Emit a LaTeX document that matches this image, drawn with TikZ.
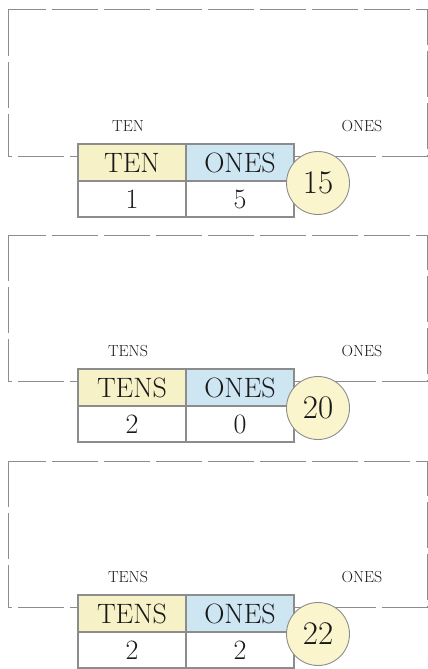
\documentclass[tikz,border=0pt]{standalone}
\usepackage{tikz}
\usetikzlibrary{positioning}
\definecolor{tens yellow}{RGB}{247,241,200}
\definecolor{ones blue}{RGB}{206,229,242}
\definecolor{coin yellow}{RGB}{250,245,205}
\definecolor{rule gray}{RGB}{140,140,140}
\definecolor{ink}{RGB}{25,25,25}

\begin{document}
\begin{tikzpicture}[x=1pt, y=-1pt,
    cell/.style = {draw=rule gray, line width=1.1pt, outer sep=0pt, inner sep=0pt,
      minimum width=108pt, minimum height=37pt, text=ink, font=\fontsize{28}{28}\selectfont},
    digit/.style = {cell, fill=white, minimum height=36pt},
    coin/.style = {circle, draw=rule gray, line width=0.9pt, fill=coin yellow, inner sep=0pt,
      minimum size=63pt, text=ink, font=\fontsize{33}{33}\selectfont},
    tag/.style = {text=ink, font=\fontsize{16}{16}\selectfont}]
  \useasboundingbox (0,0) rectangle (428,669);
  \foreach \T/\lab/\a/\b/\n [count=\i] in {10/TEN/1/5/15, 235/TENS/2/0/20, 461/TENS/2/2/22} {
    % dashed mat
    \draw[rule gray, line width=1pt, dash pattern=on 46pt off 6pt]
      (8,\T) rectangle (427,\T+146);
    \node[tag] (tl\i) at (128,\T+116) {\lab};
    \node[tag] (ol\i) at (362,\T+116) {ONES};
    % place value table
    \node[cell, fill=tens yellow, anchor=north west] (th\i) at (78,\T+134) {\lab};
    \node[cell, fill=ones blue, right=0pt of th\i] (oh\i) {ONES};
    \node[digit, below=0pt of th\i] (td\i) {\a};
    \node[digit, below=0pt of oh\i] (od\i) {\b};
    % number
    \node[coin] (n\i) at (318,\T+173) {\n};
  }
\end{tikzpicture}
\end{document}
